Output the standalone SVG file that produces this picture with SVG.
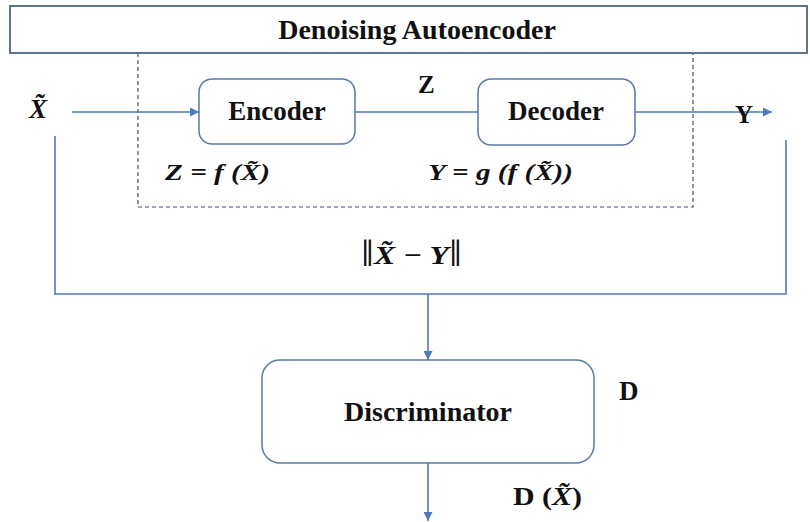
<svg xmlns="http://www.w3.org/2000/svg" width="810" height="522" viewBox="0 0 810 522">
<style>
.t{font-family:"Liberation Serif","Times New Roman",serif;font-weight:bold;fill:#111}
.it{font-style:italic}
.bar{font-style:normal;font-weight:normal}
.box{fill:#fff;stroke:#5878A6;stroke-width:1.5}
.ln{fill:none;stroke:#4D79C0;stroke-width:1.6}
.dash{fill:none;stroke:#3A4F6E;stroke-width:1.2;stroke-dasharray:4,3}
</style>
<defs>
<marker id="ah" viewBox="0 0 10 10" refX="10" refY="5" markerWidth="9" markerHeight="9" markerUnits="userSpaceOnUse" orient="auto">
<path d="M0,0 L10,5 L0,10 z" fill="#4D79C0"/>
</marker>
</defs>
<rect width="810" height="522" fill="#fff"/>
<g id="autoencoder-frame">
<rect x="138" y="53" width="555" height="154" class="dash"/>
<rect x="10" y="6" width="797" height="47" fill="#fff" stroke="#5C7394" stroke-width="2"/>
<text class="t" x="417" y="39" font-size="28" text-anchor="middle">Denoising Autoencoder</text>
</g>
<g id="connectors">
<line x1="72" y1="112" x2="199" y2="112" class="ln" marker-end="url(#ah)"/>
<line x1="355" y1="112" x2="478" y2="112" class="ln"/>
<line x1="635" y1="112" x2="772" y2="112" class="ln" marker-end="url(#ah)"/>
<polyline points="55,136 55,294 786,294 786,140" class="ln"/>
<line x1="428" y1="294" x2="428" y2="360" class="ln" marker-end="url(#ah)"/>
<line x1="428" y1="463" x2="428" y2="521" class="ln" marker-end="url(#ah)"/>
</g>
<g id="encoder">
<rect x="199" y="79" width="156" height="65" rx="13" class="box"/>
<text class="t" x="277" y="120" font-size="27" text-anchor="middle">Encoder</text>
</g>
<g id="decoder">
<rect x="478" y="79" width="157" height="66" rx="13" class="box"/>
<text class="t" x="556" y="120" font-size="27" text-anchor="middle">Decoder</text>
</g>
<g id="discriminator">
<rect x="262" y="360" width="332" height="103" rx="18" class="box"/>
<text class="t" x="428" y="421" font-size="28" text-anchor="middle">Discriminator</text>
</g>
<g id="labels">
<text class="t it" x="29" y="118" font-size="27">X̃</text>
<text class="t" x="418" y="93" font-size="25">Z</text>
<text class="t" x="735" y="123" font-size="25">Y</text>
<text class="t it" x="165" y="180" font-size="24" textLength="105" lengthAdjust="spacingAndGlyphs">Z = f (X̃)</text>
<text class="t it" x="428" y="180" font-size="24" textLength="145" lengthAdjust="spacingAndGlyphs">Y = g (f (X̃))</text>
<text class="t it" x="361" y="264" font-size="26" textLength="101" lengthAdjust="spacingAndGlyphs"><tspan class="bar" font-size="38" dy="2">‖</tspan><tspan dy="-2">X̃ − Y</tspan><tspan class="bar" font-size="38" dy="2">‖</tspan></text>
<text class="t" x="619" y="400" font-size="27">D</text>
<text class="t" x="513" y="505" font-size="25" textLength="69" lengthAdjust="spacingAndGlyphs">D (<tspan class="it">X̃</tspan>)</text>
</g>
</svg>
